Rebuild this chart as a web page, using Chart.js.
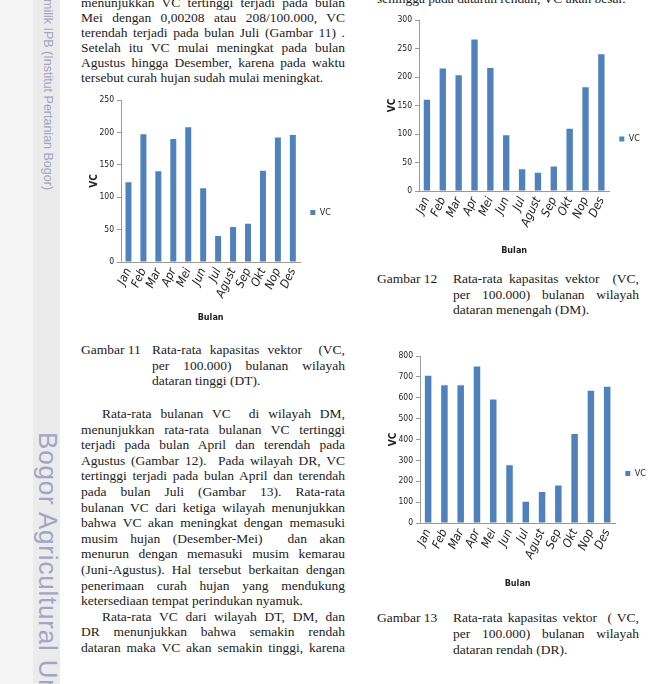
<!DOCTYPE html>
<html>
<head>
<meta charset="utf-8">
<script src="https://cdn.jsdelivr.net/npm/chart.js@4"></script>
<style>
  body { margin: 0; width: 660px; height: 684px; overflow: hidden; position: relative; background: #fff;
         font-family: 'Liberation Serif', 'Times New Roman', serif; color: #1c1c1c; }
  .side { position: absolute; left: 0; top: 0; width: 33px; height: 684px; background: #f5f5f5; }
  .strip { position: absolute; left: 33px; top: 0; width: 27px; height: 684px; background: #ebebeb; }
  .wm { position: absolute; writing-mode: vertical-rl; white-space: nowrap; color: #a4a4c8;
        font-family: 'Liberation Sans', Arial, sans-serif; }
  .txt { position: absolute; font-size: 13.5px; }
  .txt div { text-align: justify; text-align-last: justify; }
  .txt div.l { text-align: left; text-align-last: left; }
  .txt div.in { text-indent: 21px; }
  canvas { position: absolute; }
</style>
</head>
<body>
<div class="side"></div>
<div class="strip"></div>
<div class="wm" style="left:41px; top:-1px; font-size:12.5px; line-height:14px;">milik IPB (Institut Pertanian Bogor)</div>
<div class="wm" style="left:33px; top:432px; font-size:26px; line-height:29px; letter-spacing:0.8px;">Bogor Agricultural University</div>

<!-- kolom kiri -->
<div class="txt" style="left:81px; top:-5.5px; width:264px; line-height:15px;">
  <div>menunjukkan VC tertinggi terjadi pada bulan</div>
  <div>Mei dengan 0,00208 atau 208/100.000, VC</div>
  <div>terendah terjadi pada bulan Juli (Gambar 11) .</div>
  <div>Setelah itu VC mulai meningkat pada bulan</div>
  <div>Agustus hingga Desember, karena pada waktu</div>
  <div class="l">tersebut curah hujan sudah mulai meningkat.</div>
</div>

<div class="txt" style="left:81px; top:342px; line-height:15.5px;">Gambar 11</div>
<div class="txt" style="left:152px; top:342px; width:193px; line-height:15.5px;">
  <div>Rata-rata kapasitas vektor&nbsp; (VC,</div>
  <div>per 100.000) bulanan wilayah</div>
  <div class="l">dataran tinggi (DT).</div>
</div>

<div class="txt" style="left:81px; top:406px; width:264px; line-height:15.6px;">
  <div class="in">Rata-rata bulanan VC&nbsp; di wilayah DM,</div>
  <div>menunjukkan rata-rata bulanan VC tertinggi</div>
  <div>terjadi pada bulan April dan terendah pada</div>
  <div>Agustus (Gambar 12).&nbsp; Pada wilayah DR, VC</div>
  <div>tertinggi terjadi pada bulan April dan terendah</div>
  <div>pada bulan Juli (Gambar 13). Rata-rata</div>
  <div>bulanan VC dari ketiga wilayah menunjukkan</div>
  <div>bahwa VC akan meningkat dengan memasuki</div>
  <div>musim hujan (Desember-Mei)&nbsp; dan akan</div>
  <div>menurun dengan memasuki musim kemarau</div>
  <div>(Juni-Agustus). Hal tersebut berkaitan dengan</div>
  <div>penerimaan curah hujan yang mendukung</div>
  <div class="l">ketersediaan tempat perindukan nyamuk.</div>
  <div class="in">Rata-rata VC dari wilayah DT, DM, dan</div>
  <div>DR menunjukkan bahwa semakin rendah</div>
  <div>dataran maka VC akan semakin tinggi, karena</div>
</div>

<!-- kolom kanan -->
<div class="txt" style="left:377px; top:-9px; width:262px; line-height:15px;">
  <div class="l">sehingga pada dataran rendah, VC akan besar.</div>
</div>

<div class="txt" style="left:377px; top:271px; line-height:15.5px;">Gambar 12</div>
<div class="txt" style="left:453px; top:271px; width:186px; line-height:15.5px;">
  <div>Rata-rata kapasitas vektor&nbsp; (VC,</div>
  <div>per 100.000) bulanan wilayah</div>
  <div class="l">dataran menengah (DM).</div>
</div>

<div class="txt" style="left:377px; top:610px; line-height:16px;">Gambar 13</div>
<div class="txt" style="left:453px; top:610px; width:186px; line-height:16px;">
  <div>Rata-rata kapasitas vektor&nbsp; ( VC,</div>
  <div>per 100.000) bulanan wilayah</div>
  <div class="l">dataran rendah (DR).</div>
</div>

<canvas id="chartDT" width="262" height="241" style="left:83px; top:88px;"></canvas>
<canvas id="chartDM" width="273" height="254" style="left:381px; top:8px;"></canvas>
<canvas id="chartDR" width="278" height="251" style="left:382px; top:344px;"></canvas>

<script>
// data
const bulan = ["Jan", "Feb", "Mar", "Apr", "Mei", "Jun", "Jul", "Agust", "Sep", "Okt", "Nop", "Des"];
const vcDT = [123, 197, 140, 190, 208, 114, 40, 54, 59, 141, 192, 196];
const vcDM = [160, 215, 203, 266, 216, 98, 38, 32, 43, 109, 182, 240];
const vcDR = [705, 660, 660, 750, 592, 277, 102, 148, 180, 426, 633, 653];
const yTicksDT = [0, 50, 100, 150, 200, 250];
const yTicksDM = [0, 50, 100, 150, 200, 250, 300];
const yTicksDR = [0, 100, 200, 300, 400, 500, 600, 700, 800];

// font sempit, mirip Calibri yang dipadatkan di gambar
const narrow = "'Liberation Sans Narrow', 'DejaVu Sans Condensed', 'DejaVu Sans', sans-serif";
const axisColor = "#9a9a9a";

function vcChart(id, values, yTicks, xAxisHeight) {
  const yMax = yTicks[yTicks.length - 1];
  const yStep = yTicks[1] - yTicks[0];

  return new Chart(document.getElementById(id), {
    type: "bar",
    data: {
      labels: bulan,
      datasets: [{
        label: "VC",
        data: values,
        backgroundColor: "#4f81bd",
        barPercentage: 0.4,
        categoryPercentage: 1
      }]
    },
    options: {
      responsive: false,
      animation: false,
      devicePixelRatio: 1,
      layout: { padding: { left: 5, top: 12, right: 4, bottom: 4 } },
      plugins: {
        legend: {
          position: "right",
          labels: { boxWidth: 5, boxHeight: 5, padding: 10, color: "#222",
                    font: { family: narrow, size: 9, weight: "condensed" } }
        },
        tooltip: { enabled: false }
      },
      scales: {
        x: {
          grid: { display: false, drawTicks: false },
          border: { color: axisColor },
          ticks: { autoSkip: false, minRotation: 65, maxRotation: 65, padding: 4, color: "#222",
                   font: { family: narrow, size: 12, style: "italic", weight: "condensed" } },
          title: { display: true, text: "Bulan", color: "#222", padding: { top: 2, bottom: 2 },
                   font: { family: narrow, size: 9, weight: "bold condensed" } },
          afterFit: s => { s.height = xAxisHeight; }
        },
        y: {
          min: 0,
          max: yMax,
          grid: { drawOnChartArea: false, tickLength: 4, color: axisColor },
          border: { color: axisColor },
          ticks: { stepSize: yStep, padding: 3, color: "#222",
                   font: { family: narrow, size: 8.5, weight: "condensed" } },
          title: { display: true, text: "VC", color: "#222", padding: { top: 0, bottom: 0 },
                   font: { family: narrow, size: 10, weight: "bold condensed" } },
          afterFit: s => { s.width = 33; }
        }
      }
    }
  });
}

vcChart("chartDT", vcDT, yTicksDT, 63);
vcChart("chartDM", vcDM, yTicksDM, 67);
vcChart("chartDR", vcDR, yTicksDR, 68);
</script>
</body>
</html>
